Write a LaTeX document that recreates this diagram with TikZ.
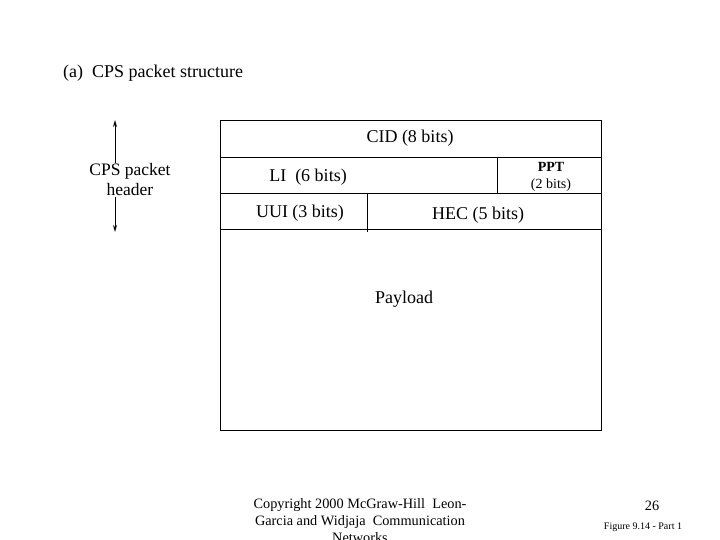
\documentclass[tikz,border=0pt]{standalone}
\usepackage{fontspec}
\setmainfont{Liberation Serif}
\usetikzlibrary{positioning, arrows.meta}

\begin{document}
\begin{tikzpicture}[
    x=1pt, y=-1pt,
    >={Stealth[length=7pt, width=4pt]},
    fieldlabel/.style={font=\fontsize{18}{20}\selectfont, inner sep=1pt},
    smalllabel/.style={font=\fontsize{14}{15}\selectfont, inner sep=0pt},
    footlabel/.style={font=\fontsize{14.3}{17}\selectfont, align=center, inner sep=0pt},
    boxline/.style={draw=black, line width=0.8pt},
]
\useasboundingbox (0,0) rectangle (720,540);

% Title
\node[fieldlabel, anchor=west] (title) at (62,73) {(a)\ \ CPS packet structure};

% Packet outline and field boundaries
\coordinate (tl) at (220,120);
\coordinate (br) at (601,430);
\draw[boxline] (tl) rectangle (br);
\foreach \y/\nm in {157/cidline, 193/liline, 229/uuiline} {
    \coordinate (\nm W) at (220,\y);
    \coordinate (\nm E) at (601,\y);
    \draw[boxline] (\nm W) -- (\nm E);
}
\draw[boxline] (497,157) -- (497,193);
\draw[boxline] (367,193) -- (367,232);

% Field labels
\node[fieldlabel] (cid) at (410,138) {CID (8 bits)};
\node[fieldlabel] (li) at (308,177) {LI\ \ (6 bits)};
\node[smalllabel, font=\fontsize{14}{15}\selectfont\bfseries] (ppt) at (551,167) {PPT};
\node[smalllabel] (pptbits) at (551,185) {(2 bits)};
\node[fieldlabel] (uui) at (300,213) {UUI (3 bits)};
\node[fieldlabel] (hec) at (478,215) {HEC (5 bits)};
\node[fieldlabel] (payload) at (404,299) {Payload};

% Header extent
\coordinate (hdrtop) at (115,120);
\coordinate (hdrbot) at (115,232);
\draw[<->, line width=1pt] (hdrtop) -- (hdrbot);
\node[fieldlabel, fill=white, align=center, inner sep=1pt,
      font=\fontsize{17.5}{20}\selectfont] (hdr) at (130,180) {CPS packet\\header};

% Footer
\node[footlabel, anchor=north] (copy) at (360,498)
    {Copyright 2000 McGraw-Hill\ \ Leon-\\Garcia and Widjaja\ \ Communication\\Networks};
\node[footlabel] (page) at (652,506) {26};
\node[font=\fontsize{10}{11}\selectfont, inner sep=0pt] (fig) at (643,527) {Figure 9.14 - Part 1};
\end{tikzpicture}
\end{document}
